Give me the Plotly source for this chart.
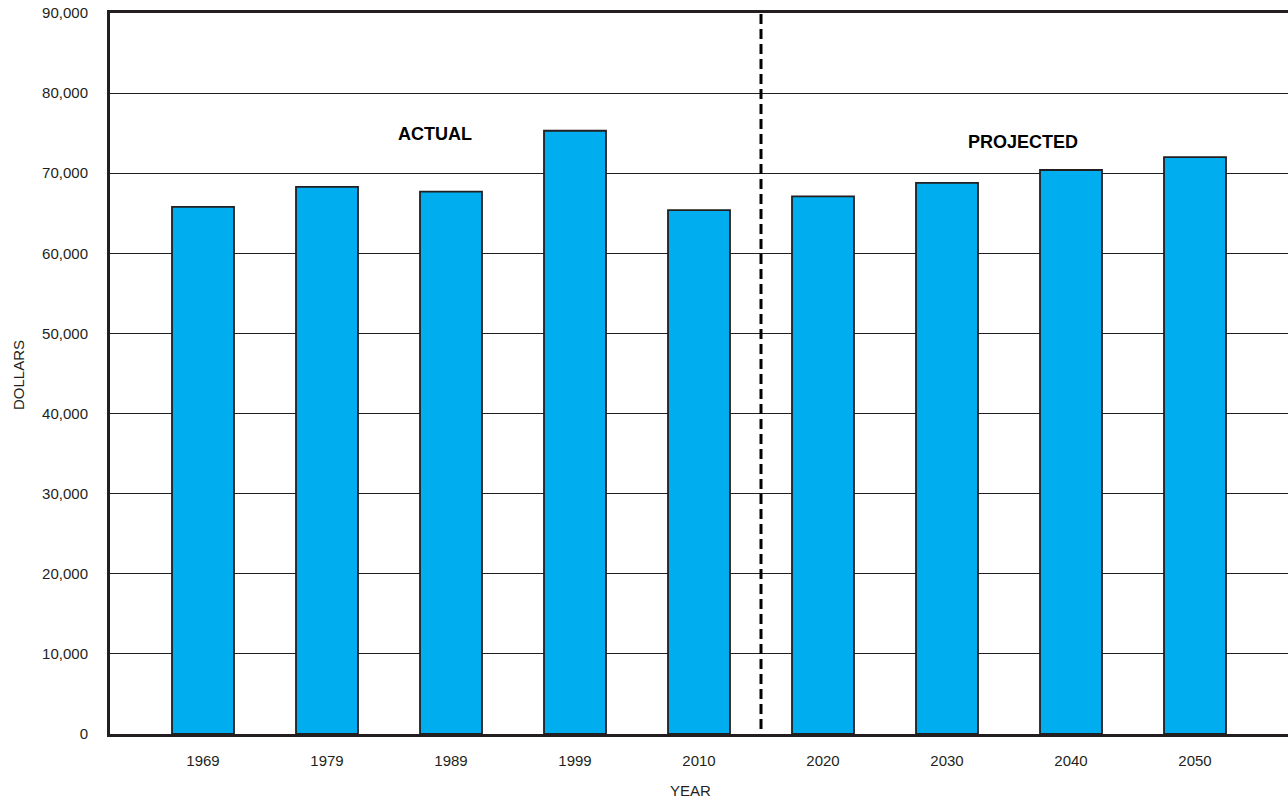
import plotly.graph_objects as go

years = ["1969", "1979", "1989", "1999", "2010", "2020", "2030", "2040", "2050"]
dollars = [65800, 68300, 67700, 75300, 65400, 67100, 68800, 70400, 72000]
y_ticks = [0, 10000, 20000, 30000, 40000, 50000, 60000, 70000, 80000, 90000]
y_tick_text = ["0", "10,000", "20,000", "30,000", "40,000", "50,000", "60,000", "70,000", "80,000", "90,000"]

INK = "#231F20"
FONT = "Liberation Sans, Arial, sans-serif"

# plot area in page pixels: left 110, top 13, right 1288, bottom 734
PL, PT, PR, PB = 110, 13, 1288, 734
plot_w = PR - PL
plot_h = PB - PT

fig = go.Figure()
fig.add_trace(go.Bar(
    x=years, y=dollars, width=0.5,
    marker=dict(color="#00AEEF", line=dict(color=INK, width=1.8)),
    hoverinfo="x+y",
))

fig.update_layout(
    width=1288, height=803,
    margin=dict(l=PL, r=0, t=PT, b=803 - PB),
    paper_bgcolor="white", plot_bgcolor="white",
    showlegend=False,
    font=dict(family=FONT, size=15, color=INK),
    xaxis=dict(
        type="category", range=[-0.75, 8.75],
        showline=True, linewidth=3, linecolor=INK, mirror=True,
        showgrid=False, ticks="outside", ticklen=11, tickcolor="rgba(0,0,0,0)",
        tickfont=dict(size=15, color=INK, family=FONT),
        zeroline=False,
    ),
    yaxis=dict(
        range=[0, 90000], tickvals=y_ticks, ticktext=y_tick_text,
        showline=True, linewidth=3, linecolor=INK,
        showgrid=True, gridcolor=INK, gridwidth=1,
        ticks="outside", ticklen=16, tickcolor="rgba(0,0,0,0)",
        tickfont=dict(size=15, color=INK, family=FONT),
        ticklabeloverflow="allow",
        zeroline=False,
    ),
    shapes=[dict(
        type="line", xref="x", yref="paper", x0=4.5, x1=4.5, y0=0.007, y1=1,
        line=dict(color="black", width=3, dash="10px,5px"), layer="above",
    )],
    annotations=[
        dict(text="<b>ACTUAL</b>", x=1.87, y=74900, xref="x", yref="y",
             showarrow=False, font=dict(size=18, color="black", family=FONT)),
        dict(text="<b>PROJECTED</b>", x=6.61, y=73900, xref="x", yref="y",
             showarrow=False, font=dict(size=18, color="black", family=FONT)),
        dict(text="YEAR", xref="paper", yref="paper",
             x=(690 - PL) / plot_w, y=-(790 - PB) / plot_h,
             xanchor="center", yanchor="middle",
             showarrow=False, font=dict(size=15, color=INK, family=FONT)),
        dict(text="DOLLARS", textangle=-90, xref="paper", yref="paper",
             x=(18 - PL) / plot_w, y=(PB - 375) / plot_h,
             xanchor="center", yanchor="middle",
             showarrow=False, font=dict(size=15, color=INK, family=FONT)),
    ],
)

fig.write_html(
    "out.html",
    config={"displayModeBar": False},
    post_script="document.body.style.margin='0px';document.body.style.overflow='hidden';",
)
